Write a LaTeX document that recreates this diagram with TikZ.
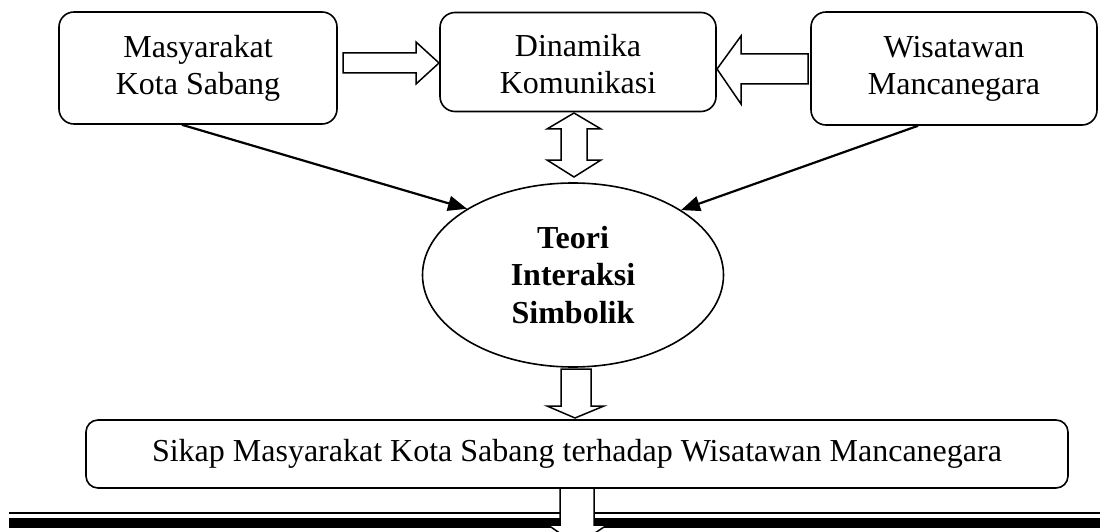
\documentclass[tikz,border=0pt]{standalone}
\usepackage{fontspec}
\setmainfont{Liberation Serif}
\usetikzlibrary{shapes.geometric,arrows.meta,calc}
\begin{document}
\begin{tikzpicture}[x=1pt,y=-1pt,
  box/.style={draw,line width=1.6pt,rounded corners=15pt,inner sep=0pt,align=center,
              font=\fontsize{32}{37}\selectfont},
  hollow/.style={draw,line width=1.5pt,fill=white,line join=miter},
  link/.style={line width=2.2pt,-{Triangle[length=19pt,width=15pt]}},
  bar/.style={line width=#1,line cap=butt}]
\useasboundingbox (0,0) rectangle (1100,532);
\clip (0,0) rectangle (1100,532);

% boxes
\node[box,minimum width=278pt,minimum height=112pt] (b1) at (198,68) {Masyarakat\\Kota Sabang};
\node[box,minimum width=276pt,minimum height=99pt] (b2) at (578,62) {\rule{0pt}{27pt}Dinamika\\Komunikasi};
\node[box,minimum width=286pt,minimum height=113pt] (b3) at (954,68.5) {Wisatawan\\Mancanegara};
\node[draw,ellipse,line width=1.6pt,minimum width=301pt,minimum height=184pt,inner sep=0pt,
      align=center,font=\bfseries\fontsize{32}{37.5}\selectfont] (teori) at (573,275)
      {Teori\\Interaksi\\Simbolik};
\node[box,rounded corners=12pt,minimum width=982pt,minimum height=68pt] (sikap) at (577,454)
      {Sikap Masyarakat Kota Sabang terhadap Wisatawan Mancanegara};

% hollow block arrows
\draw[hollow] (343,53) -- (416,53) -- (416,42) -- (439,63) -- (416,84) -- (416,73) -- (343,73) -- cycle;
\draw[hollow] (808,54) -- (741,54) -- (741,36) -- (717,69) -- (741,104) -- (741,84) -- (808,84) -- cycle;
\draw[hollow] (574,113) -- (601,129) -- (587,129) -- (587,160) -- (601,160) -- (574,177)
      -- (547,160) -- (561,160) -- (561,129) -- (547,129) -- cycle;
\draw[hollow] (561,369) -- (591,369) -- (591,406) -- (604,406) -- (575,418) -- (547,406)
      -- (561,406) -- cycle;

% connectors
\draw[link] ($(b1.south)+(-16,0)$) -- (teori.148);
\draw[link] ($(b3.south)+(-36,0)$) -- (teori.31);

% double rule at the bottom
\draw[bar=2.5pt] (9,513) -- (1100,513);
\draw[bar=10pt] (9,523) -- (1100,523);
\draw[hollow] (560,488) -- (594,488) -- (594,525) -- (607,525) -- (577,545) -- (548,525)
      -- (560,525) -- cycle;
\end{tikzpicture}
\end{document}
